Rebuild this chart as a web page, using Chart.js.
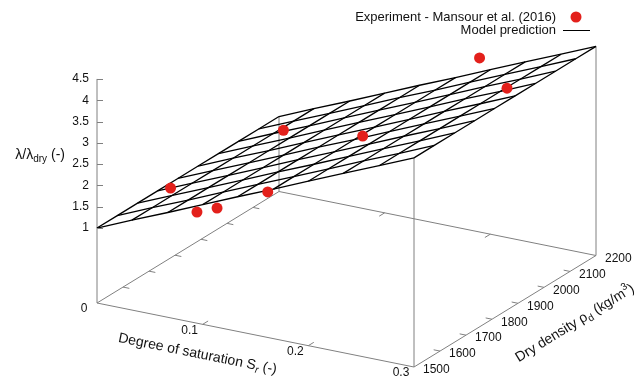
<!DOCTYPE html>
<html>
<head>
<meta charset="utf-8">
<script src="https://cdn.jsdelivr.net/npm/chart.js@4.4.1/dist/chart.umd.min.js"></script>
<style>
html, body { margin: 0; padding: 0; background: #fff; }
canvas { display: block; }
</style>
</head>
<body>
<canvas id="surfaceChart" width="644" height="383"></canvas>
<script>
// Experiment - Mansour et al. (2016)
var expSr = [0.045, 0.070, 0.089, 0.137, 0.078, 0.153, 0.239, 0.265];
var expRho = [1600, 1600, 1600, 1600, 1900, 1900, 2000, 2000];
var expRatio = [1.79, 1.35, 1.54, 2.16, 2.19, 2.43, 4.32, 3.74];

// Model prediction, 10 x 10 isolines (ratio only changes with Sr)
var gridSr = [0, 0.033, 0.067, 0.1, 0.133, 0.167, 0.2, 0.233, 0.267, 0.3];
var gridRho = [1500, 1578, 1656, 1733, 1811, 1889, 1967, 2044, 2122, 2200];
var gridRatio = [1.00, 1.35, 1.70, 2.05, 2.40, 2.75, 3.10, 3.45, 3.80, 4.15];

// axes
var srTicks = [0, 0.1, 0.2, 0.3];
var srTickLabels = ['0', '0.1', '0.2', '0.3'];
var rhoTicks = [1500, 1600, 1700, 1800, 1900, 2000, 2100, 2200];
var zTicks = [1, 1.5, 2, 2.5, 3, 3.5, 4, 4.5];
var zTickLabels = ['1', '1.5', '2', '2.5', '3', '3.5', '4', '4.5'];

var srRange = [0, 0.3];
var rhoRange = [1500, 2200];

// view / projection (gnuplot-like oblique view)
var view = { ox: 97, oy: 303, srDx: 317, srDy: 64, rhoDx: 182, rhoDy: -111.5, zBase: -0.76, zPx: 42.6 };
var FONT = '"Liberation Sans", Arial, sans-serif';
var TEXT_COLOR = '#111';
var AXIS_COLOR = '#808080';
var DOT_COLOR = '#e3201b';

function project(sr, rho, z) {
    var s = (sr - srRange[0]) / (srRange[1] - srRange[0]);
    var r = (rho - rhoRange[0]) / (rhoRange[1] - rhoRange[0]);
    return {
        x: view.ox + s * view.srDx + r * view.rhoDx,
        y: view.oy + s * view.srDy + r * view.rhoDy - (z - view.zBase) * view.zPx
    };
}

function lineSet(points, color, width, order) {
    return {
        data: points,
        showLine: true,
        borderColor: color,
        borderWidth: width,
        pointRadius: 0,
        fill: false,
        clip: false,
        order: order
    };
}

function buildDatasets() {
    var sets = [];
    var zb = view.zBase;

    // experimental points
    var pts = [];
    for (var i = 0; i < expSr.length; i++) {
        pts.push(project(expSr[i], expRho[i], expRatio[i]));
    }
    sets.push({
        data: pts,
        showLine: false,
        pointRadius: 5.5,
        pointBackgroundColor: DOT_COLOR,
        pointBorderWidth: 0,
        clip: false,
        order: 0
    });

    // surface isolines
    for (var a = 0; a < gridSr.length; a++) {
        var row = [];
        for (var b = 0; b < gridRho.length; b++) row.push(project(gridSr[a], gridRho[b], gridRatio[a]));
        sets.push(lineSet(row, '#000', 1.3, 1));
    }
    for (var b2 = 0; b2 < gridRho.length; b2++) {
        var col = [];
        for (var a2 = 0; a2 < gridSr.length; a2++) col.push(project(gridSr[a2], gridRho[b2], gridRatio[a2]));
        sets.push(lineSet(col, '#000', 1.3, 1));
    }

    // base box
    var s0 = srRange[0], s1 = srRange[1], r0 = rhoRange[0], r1 = rhoRange[1];
    sets.push(lineSet([project(s0, r0, zb), project(s1, r0, zb), project(s1, r1, zb), project(s0, r1, zb), project(s0, r0, zb)], AXIS_COLOR, 1, 2));
    // z axis and corner verticals up to the surface
    sets.push(lineSet([project(s0, r0, zb), project(s0, r0, zTicks[zTicks.length - 1])], AXIS_COLOR, 1, 2));
    sets.push(lineSet([project(s0, r1, zb), project(s0, r1, gridRatio[0])], AXIS_COLOR, 1, 2));
    sets.push(lineSet([project(s1, r0, zb), project(s1, r0, gridRatio[gridRatio.length - 1])], AXIS_COLOR, 1, 2));
    sets.push(lineSet([project(s1, r1, zb), project(s1, r1, gridRatio[gridRatio.length - 1])], AXIS_COLOR, 1, 2));

    // tick marks
    var srTickLen = 0.03 * (r1 - r0);
    var rhoTickLen = 0.02 * (s1 - s0);
    srTicks.forEach(function (t) {
        if (t === s0 || t === s1) return;
        sets.push(lineSet([project(t, r0, zb), project(t, r0 + srTickLen, zb)], AXIS_COLOR, 1, 2));
        sets.push(lineSet([project(t, r1, zb), project(t, r1 - srTickLen, zb)], AXIS_COLOR, 1, 2));
    });
    rhoTicks.forEach(function (t) {
        if (t === r0 || t === r1) return;
        sets.push(lineSet([project(s1, t, zb), project(s1 - rhoTickLen, t, zb)], AXIS_COLOR, 1, 2));
        sets.push(lineSet([project(s0, t, zb), project(s0 + rhoTickLen, t, zb)], AXIS_COLOR, 1, 2));
    });
    return sets;
}

function fontFor(part, size) {
    var sz = (part.sub || part.sup) ? Math.round(size * 0.72) : size;
    return (part.italic ? 'italic ' : '') + sz + 'px ' + FONT;
}

function drawRich(ctx, parts, x, y, align, size) {
    var widths = parts.map(function (p) {
        ctx.font = fontFor(p, size);
        return ctx.measureText(p.t).width;
    });
    var total = widths.reduce(function (s, w) { return s + w; }, 0);
    var cx = align === 'right' ? x - total : (align === 'center' ? x - total / 2 : x);
    ctx.textAlign = 'left';
    ctx.textBaseline = 'middle';
    parts.forEach(function (p, i) {
        ctx.font = fontFor(p, size);
        var dy = p.sub ? size * 0.3 : (p.sup ? -size * 0.38 : 0);
        ctx.fillText(p.t, cx, y + dy);
        cx += widths[i];
    });
}

var textPlugin = {
    id: 'surfaceText',
    afterDraw: function (chart) {
        var ctx = chart.ctx;
        var xs = chart.scales.x, ys = chart.scales.y;
        function px(p) { return { x: xs.getPixelForValue(p.x), y: ys.getPixelForValue(p.y) }; }
        var zb = view.zBase;
        ctx.save();
        ctx.fillStyle = TEXT_COLOR;
        ctx.strokeStyle = AXIS_COLOR;
        ctx.lineWidth = 1;

        // z ticks
        zTicks.forEach(function (t, i) {
            var p = px(project(srRange[0], rhoRange[0], t));
            ctx.beginPath();
            ctx.moveTo(p.x, Math.round(p.y) + 0.5);
            ctx.lineTo(p.x + 6, Math.round(p.y) + 0.5);
            ctx.stroke();
            drawRich(ctx, [{ t: zTickLabels[i] }], p.x - 8, p.y, 'right', 12);
        });

        // Sr tick labels
        srTicks.forEach(function (t, i) {
            var p = px(project(t, rhoRange[0], zb));
            drawRich(ctx, [{ t: srTickLabels[i] }], p.x - 13, p.y + 6, 'center', 12);
        });

        // rho tick labels
        rhoTicks.forEach(function (t) {
            var p = px(project(srRange[1], t, zb));
            drawRich(ctx, [{ t: String(t) }], p.x + 9, p.y + 3, 'left', 12);
        });

        // z title
        var zt = px(project(srRange[0], rhoRange[0], 2.71));
        drawRich(ctx, [{ t: '\u03bb/\u03bb' }, { t: 'dry', sub: true }, { t: ' (-)' }], zt.x - 32, zt.y, 'right', 14);

        // Sr title, along the front axis
        var st = px(project(0.15, rhoRange[0], zb));
        ctx.save();
        ctx.translate(st.x - 58, st.y + 19);
        ctx.rotate(Math.atan2(view.srDy, view.srDx));
        drawRich(ctx, [{ t: 'Degree of saturation S' }, { t: 'r', sub: true, italic: true }, { t: ' (-)' }], 0, 0, 'center', 14);
        ctx.restore();

        // rho title, along the right axis
        var rt = px(project(srRange[1], 1850, zb));
        ctx.save();
        ctx.translate(rt.x + 70, rt.y + 12);
        ctx.rotate(Math.atan2(view.rhoDy, view.rhoDx));
        drawRich(ctx, [{ t: 'Dry density \u03c1' }, { t: 'd', sub: true }, { t: ' (kg/m' }, { t: '3', sup: true }, { t: ')' }], 0, 0, 'center', 14);
        ctx.restore();

        // legend
        drawRich(ctx, [{ t: 'Experiment - Mansour et al. (2016)' }], 556, 17, 'right', 13);
        drawRich(ctx, [{ t: 'Model prediction' }], 556, 30, 'right', 13);
        ctx.fillStyle = DOT_COLOR;
        ctx.beginPath();
        ctx.arc(576, 17, 5.5, 0, Math.PI * 2);
        ctx.fill();
        ctx.strokeStyle = '#000';
        ctx.beginPath();
        ctx.moveTo(563, 30.5);
        ctx.lineTo(590, 30.5);
        ctx.stroke();
        ctx.restore();
    }
};

var surfaceChart = new Chart(document.getElementById('surfaceChart').getContext('2d'), {
    type: 'scatter',
    data: { datasets: buildDatasets() },
    options: {
        responsive: false,
        animation: false,
        devicePixelRatio: 1,
        events: [],
        layout: { padding: 0, autoPadding: false },
        plugins: { legend: { display: false }, tooltip: { enabled: false }, title: { display: false } },
        scales: {
            x: { type: 'linear', display: false, min: 0, max: 644 },
            y: { type: 'linear', display: false, min: 0, max: 383, reverse: true }
        }
    },
    plugins: [textPlugin]
});
</script>
</body>
</html>
